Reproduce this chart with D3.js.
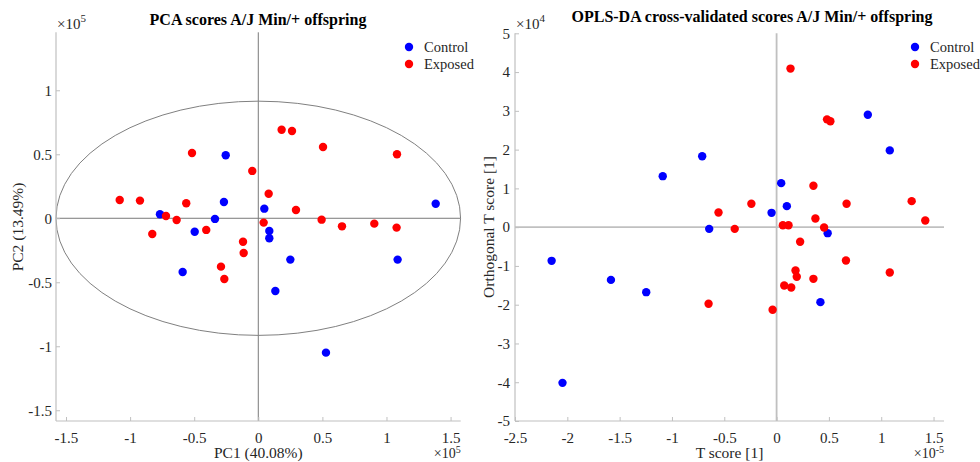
<!DOCTYPE html>
<html><head><meta charset="utf-8">
<script src="https://cdn.jsdelivr.net/npm/d3@7"></script>
<style>
body{margin:0;background:#fff;}
text{font-family:"Liberation Serif","Times New Roman",serif;}
</style></head>
<body><svg id="c" width="980" height="462"></svg>
<script>
// ---------- DATA ----------
const groups = ["Control", "Exposed"];
const groupColors = ["#0000ff", "#ff0000"];

// PCA scores (x 1e5)
const pcaControlX = [-0.254,-0.268,1.384,0.047,-0.767,-0.338,-0.496,0.086,0.086,0.250,1.087,-0.590,0.133,0.528];
const pcaControlY = [0.492,0.127,0.114,0.075,0.031,-0.005,-0.105,-0.099,-0.156,-0.323,-0.323,-0.420,-0.568,-1.050];
const pcaExposedX = [0.182,0.263,0.505,1.082,-0.517,-0.047,0.081,-1.081,-0.923,-0.562,0.294,-0.720,-0.637,0.494,0.042,0.653,0.905,1.079,-0.827,-0.406,-0.119,-0.114,-0.291,-0.265];
const pcaExposedY = [0.692,0.682,0.557,0.500,0.510,0.370,0.192,0.143,0.138,0.117,0.065,0.018,-0.013,-0.011,-0.034,-0.063,-0.042,-0.073,-0.123,-0.091,-0.183,-0.271,-0.378,-0.474];
const pcaEllipseRadii = [1.578, 0.915];
const pcaXTicks = [-1.5,-1,-0.5,0,0.5,1,1.5];
const pcaYTicks = [-1.5,-1,-0.5,0,0.5,1];
const pcaXDomain = [-1.578, 1.579];
const pcaYDomain = [-1.584, 1.453];

// OPLS-DA scores (x in 1e-5, y in 1e4)
const oplsControlX = [0.872,1.082,-0.711,-1.088,0.044,0.098,-0.048,-0.644,0.488,-2.150,-1.583,-1.246,0.419,-2.046];
const oplsControlY = [2.90,1.98,1.83,1.315,1.135,0.542,0.369,-0.044,-0.155,-0.869,-1.36,-1.677,-1.934,-4.016];
const oplsExposedX = [0.133,0.482,0.514,0.352,0.669,1.291,1.421,-0.241,-0.555,0.371,0.060,0.114,0.454,-0.400,0.225,0.663,1.082,0.181,0.193,0.352,0.073,0.140,-0.650,-0.038];
const oplsExposedY = [4.09,2.78,2.73,1.066,0.602,0.671,0.172,0.602,0.378,0.223,0.05,0.05,-0.008,-0.044,-0.378,-0.86,-1.17,-1.118,-1.281,-1.333,-1.505,-1.556,-1.977,-2.132];
const oplsXTicks = [-2.5,-2,-1.5,-1,-0.5,0,0.5,1,1.5];
const oplsYTicks = [-5,-4,-3,-2,-1,0,1,2,3,4,5];
const oplsXDomain = [-2.5, 1.6];
const oplsYDomain = [-5, 5];

const svg = d3.select("#c");
const fmt = v => (v < 0 ? "-" : "") + String(Math.abs(v));
const txtCol = "#262626";

function panel(o) {
  const g = svg.append("g");
  const x = d3.scaleLinear().domain(o.xDomain).range([o.left, o.right]);
  const y = d3.scaleLinear().domain(o.yDomain).range([o.bottom, o.top]);

  // crosshair
  g.append("line").attr("x1", x.range()[0]).attr("x2", x.range()[1]).attr("y1", y(0)).attr("y2", y(0))
    .attr("stroke", o.crossColor).attr("stroke-width", o.crossWidth);
  g.append("line").attr("x1", x(0)).attr("x2", x(0)).attr("y1", o.top).attr("y2", o.bottom)
    .attr("stroke", o.crossColor).attr("stroke-width", o.crossWidth);

  if (o.ellipse) {
    g.append("ellipse").attr("cx", x(0)).attr("cy", y(0))
      .attr("rx", x(o.ellipse[0]) - x(0)).attr("ry", y(0) - y(o.ellipse[1]))
      .attr("fill", "none").attr("stroke", "#808080").attr("stroke-width", 1);
  }

  const xa = g.append("g").attr("transform", `translate(0,${o.bottom})`)
    .call(d3.axisBottom(x).tickValues(o.xTicks).tickFormat(fmt).tickSizeInner(-4).tickSizeOuter(0).tickPadding(11));
  const ya = g.append("g").attr("transform", `translate(${o.left},0)`)
    .call(d3.axisLeft(y).tickValues(o.yTicks).tickFormat(fmt).tickSizeInner(-4).tickSizeOuter(0).tickPadding(o.yPad));
  [xa, ya].forEach(a => {
    a.attr("font-family", null);
    a.select(".domain").attr("stroke", "#c0c0c0").attr("stroke-width", 1.2);
    a.selectAll(".tick line").attr("stroke", "#c0c0c0");
    a.selectAll(".tick text").attr("fill", txtCol).style("font-size", "15px")
      .style("font-family", '"Liberation Serif",serif');
  });
  ya.select(".domain").attr("d", `M0,${o.top}V${o.bottom}`);
  xa.select(".domain").attr("d", `M${o.left},0H${o.right}`);

  // points
  o.series.forEach((s, i) => {
    g.append("g").selectAll("circle").data(s.xs.map((v, j) => [v, s.ys[j]])).join("circle")
      .attr("cx", d => x(d[0])).attr("cy", d => y(d[1])).attr("r", 4.2)
      .attr("fill", groupColors[i]);
  });

  // title
  g.append("text").attr("x", o.titleX).attr("y", o.titleY).attr("text-anchor", "middle")
    .attr("font-weight", "bold").attr("font-size", 16).attr("fill", "#000").text(o.title);

  // axis labels
  g.append("text").attr("x", (o.left + o.right) / 2 + o.xLabelDx).attr("y", 458).attr("text-anchor", "middle")
    .attr("font-size", 15.5).attr("fill", txtCol).text(o.xLabel);
  g.append("text").attr("transform", `translate(${o.yLabelX},${o.yLabelY}) rotate(-90)`).attr("text-anchor", "middle")
    .attr("font-size", 15.5).attr("fill", txtCol).text(o.yLabel);

  // exponent labels
  const e1 = g.append("text").attr("x", o.left + 1).attr("y", 29).attr("font-size", 15).attr("fill", txtCol);
  e1.append("tspan").text("\u00d710");
  e1.append("tspan").attr("dy", -7).attr("font-size", 11).text(o.yExp);
  const e2 = g.append("text").attr("x", o.right).attr("y", 458).attr("text-anchor", "end").attr("font-size", 14).attr("fill", txtCol);
  e2.append("tspan").text("\u00d710");
  e2.append("tspan").attr("dy", -5).attr("font-size", 10).text(o.xExp);

  // legend
  groups.forEach((name, i) => {
    const ly = 47 + i * 17;
    g.append("circle").attr("cx", o.legendX).attr("cy", ly).attr("r", 4.2).attr("fill", groupColors[i]);
    g.append("text").attr("x", o.legendX + 15).attr("y", ly + 5).attr("font-size", 14.5).attr("fill", txtCol).text(name);
  });
}

panel({
  left: 56, right: 460.7, top: 32.3, bottom: 421, yPad: 4,
  xDomain: pcaXDomain, yDomain: pcaYDomain, xTicks: pcaXTicks, yTicks: pcaYTicks,
  crossColor: "#7a7a7a", crossWidth: 1, ellipse: pcaEllipseRadii,
  series: [{xs: pcaControlX, ys: pcaControlY}, {xs: pcaExposedX, ys: pcaExposedY}],
  title: "PCA scores A/J Min/+ offspring", titleX: 258, titleY: 25,
  xLabel: "PC1 (40.08%)", xLabelDx: 0, yLabel: "PC2 (13.49%)", yLabelX: 23, yLabelY: 227,
  yExp: "5", xExp: "5", legendX: 409
});

panel({
  left: 515, right: 944, top: 33.3, bottom: 421, yPad: 5,
  xDomain: oplsXDomain, yDomain: oplsYDomain, xTicks: oplsXTicks, yTicks: oplsYTicks,
  crossColor: "#c0c0c0", crossWidth: 1.8, ellipse: null,
  series: [{xs: oplsControlX, ys: oplsControlY}, {xs: oplsExposedX, ys: oplsExposedY}],
  title: "OPLS-DA cross-validated scores A/J Min/+ offspring", titleX: 752, titleY: 22,
  xLabel: "T score [1]", xLabelDx: 0, yLabel: "Orthogonal T score [1]", yLabelX: 494, yLabelY: 227,
  yExp: "4", xExp: "-5", legendX: 915
});
</script></body></html>
